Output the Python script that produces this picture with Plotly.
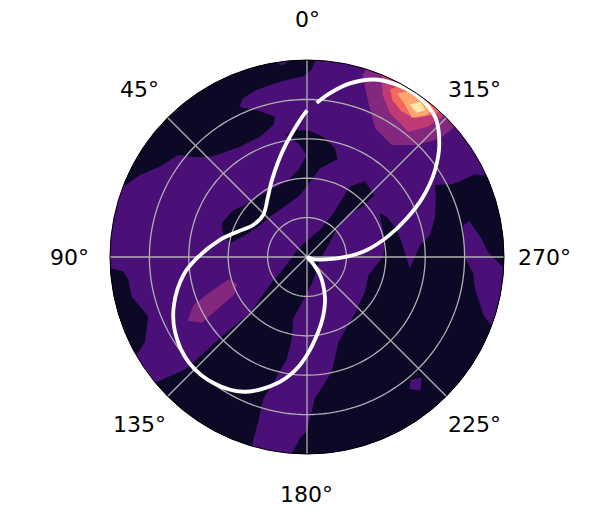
import numpy as np
import plotly.graph_objects as go

# Curve values
curve_theta = [0, 2.9, 12.6, 24.4, 33, 46.3, 59.3, 70.3, 78.9, 90.7, 98.3, 109.8, 119.5, 131.8, 143.8, 154.8,
               166.5, 173.9, 179.8, 188.6, 195, 201.4, 205.9, 214.6, 222, 232, 250, 263, 270.4, 276.7, 284.3, 291.2, 297.4,
               304.2, 310.7, 317.6, 325.9, 333.6, 339.5, 346.1, 352, 356.4]
curve_r = [3.72, 3.48, 2.78, 2.15, 1.82, 1.54, 1.59, 1.89, 2.25, 2.80, 3.17, 3.59, 3.85, 4.02, 3.98, 3.78,
           3.30, 2.90, 2.50, 1.92, 1.57, 1.25, 1.02, 0.62, 0.25, 0.03, 0.15, 0.5, 1.01, 1.53, 2.12, 2.72, 3.32,
           3.93, 4.43, 4.82, 4.96, 4.92, 4.81, 4.54, 4.2, 3.92]

# Contour level outlines, in radial-unit x/y (clipped by the disc)
dark_top_x = [0.32, 0.12, -0.09, -0.69, -1.28, -1.62, -1.72, -1.28, -0.81, -0.85, -1.19, -1.70, -2.38, -2.80, -3.27, -3.73, -4.24, -4.59, -5.0, -5.3, -3.0, 0.32]
dark_top_y = [5.3, 4.75, 4.59, 4.45, 4.24, 4.03, 3.80, 3.73, 3.56, 3.35, 3.05, 2.80, 2.56, 2.53, 2.59, 2.29, 2.08, 1.83, 1.95, 3.8, 5.5, 5.5]
dark_blob_x = [-0.56, -0.30, 0.03, 0.41, 0.71, 0.78, 0.33, 0.08, -0.18, -0.52, -0.94, -1.24, -1.62, -1.95, -2.12, -2.17, -1.87, -1.57, -1.32, -0.94, -0.47, -0.22, -0.01, -0.22]
dark_blob_y = [3.10, 3.22, 3.22, 3.05, 2.76, 2.48, 2.25, 1.91, 1.57, 1.32, 1.02, 0.77, 0.52, 0.35, 0.56, 0.85, 1.19, 1.32, 1.49, 1.70, 1.95, 2.21, 2.59, 2.88]
dark_band_x = [1.09, 1.47, 1.70, 1.43, 1.09, 0.80, 0.63, 0.33, 0.25, 0.12, -0.14, -0.35, -0.39, -0.52, -0.94, -1.11, -1.24, -1.40, -1.5, -3.5, -4.3, -3.82, -3.05, -2.12, -1.45, -0.94, -0.52, -0.18, 0.33, 0.67]
dark_band_y = [1.79, 1.93, 1.57, 1.28, 1.11, 0.81, 0.47, -0.08, -0.33, -0.67, -1.18, -1.57, -2.11, -2.61, -3.33, -3.59, -4.18, -4.79, -5.3, -4.8, -3.6, -3.18, -2.83, -1.98, -1.43, -0.71, -0.20, 0.26, 0.69, 1.11]
dark_right_x = [1.84, 2.02, 2.26, 2.40, 2.61, 2.87, 3.12, 3.16, 3.25, 3.27, 3.25, 3.71, 3.93, 4.26, 4.54, 5.0, 5.5, 5.0, 3.5, 1.5, -0.4, -0.39, -0.18, -0.01, 0.20, 0.63, 0.80, 1.22, 1.47, 1.56, 1.73, 1.94, 1.98, 1.90]
dark_right_y = [1.11, 1.02, 0.73, 0.39, -0.29, 0.30, 0.56, 0.69, 1.02, 1.49, 1.83, 1.85, 1.95, 2.10, 2.06, 2.3, 0.0, -3.0, -4.6, -5.4, -5.4, -5.0, -4.60, -4.43, -3.59, -2.91, -2.15, -1.43, -0.88, -0.46, -0.25, 0.01, 0.43, 0.81]
dark_left_x = [-4.96, -4.66, -4.53, -4.45, -4.03, -4.11, -4.31, -4.7, -5.4, -5.4]
dark_left_y = [-0.29, -0.37, -0.58, -1.01, -1.51, -2.15, -2.46, -2.7, -1.5, -0.3]

low_rim_x = [3.97, 4.12, 4.43, 4.60, 4.98, 5.4, 5.2, 4.69, 4.48, 4.26, 4.22, 4.01, 3.99]
low_rim_y = [0.81, 0.91, 0.47, 0.11, -0.26, -0.4, -1.95, -1.75, -1.47, -0.80, -0.41, -0.03, 0.09]
low_square_x = [2.60, 2.63, 2.91, 2.88]
low_square_y = [-3.35, -3.12, -3.06, -3.39]
low_top_x = [-0.77, -0.64, -0.52, -0.52, -0.77]
low_top_y = [4.93, 4.86, 4.93, 5.3, 5.3]

mid_left_x = [-2.00, -1.77, -1.85, -2.67, -3.03, -2.88, -2.55]
mid_left_y = [-0.57, -0.69, -0.96, -1.67, -1.62, -1.22, -0.96]
mid_hot_x = [1.47, 1.41, 1.56, 1.73, 2.15, 2.78, 3.38, 3.70, 4.1, 3.4, 1.5]
mid_hot_y = [4.70, 4.62, 3.90, 3.27, 2.84, 2.84, 3.01, 3.27, 3.5, 4.8, 5.2]
pink_x = [1.95, 1.90, 1.92, 2.11, 2.57, 3.08, 3.42, 3.8, 3.0]
pink_y = [5.0, 4.49, 4.11, 3.65, 3.18, 3.31, 3.56, 3.9, 5.0]
salmon_x = [2.44, 2.11, 2.17, 2.40, 2.74, 3.25, 3.39, 3.7, 2.9]
salmon_y = [4.38, 4.26, 3.98, 3.69, 3.52, 3.62, 3.71, 4.0, 4.6]
orange_x = [2.29, 2.57, 2.87, 3.16, 3.02, 2.66, 2.49]
orange_y = [4.15, 4.21, 4.07, 3.71, 3.59, 3.54, 3.86]
pale_x = [2.61, 2.87, 3.01, 2.78]
pale_y = [3.87, 3.94, 3.73, 3.66]

ring_values = [1, 2, 3, 4]
tick_angles = [0, 45, 90, 135, 180, 225, 270, 315]
tick_labels = ["0°", "45°", "90°", "135°", "180°", "225°", "270°", "315°"]

DARK, PURPLE, MAGENTA = "#0c0927", "#4a1078", "#84277f"
PINK, SALMON, ORANGE, PALE = "#c03b76", "#f4695c", "#fea671", "#fde8a9"

regions = [
    (dark_top_x, dark_top_y, DARK), (dark_blob_x, dark_blob_y, DARK), (dark_band_x, dark_band_y, DARK),
    (dark_right_x, dark_right_y, DARK), (dark_left_x, dark_left_y, DARK),
    (low_rim_x, low_rim_y, PURPLE), (low_square_x, low_square_y, PURPLE), (low_top_x, low_top_y, PURPLE),
    (mid_left_x, mid_left_y, MAGENTA), (mid_hot_x, mid_hot_y, MAGENTA),
    (pink_x, pink_y, PINK), (salmon_x, salmon_y, SALMON), (orange_x, orange_y, ORANGE), (pale_x, pale_y, PALE),
]

fig = go.Figure()
for xs, ys, color in regions:
    x, y = np.array(xs), np.array(ys)
    fig.add_trace(go.Scatterpolar(
        r=np.hypot(x, y), theta=np.degrees(np.arctan2(-x, y)) % 360,
        mode="lines", fill="toself", fillcolor=color, line=dict(width=0),
        hoverinfo="skip", showlegend=False))

GRID = "#b0b0b0"
circle = np.arange(0, 361, 2)
for ring in ring_values:
    fig.add_trace(go.Scatterpolar(r=[ring] * len(circle), theta=circle, mode="lines",
                                  line=dict(color=GRID, width=1.3), hoverinfo="skip", showlegend=False))
for angle in tick_angles:
    fig.add_trace(go.Scatterpolar(r=[0, 5], theta=[angle, angle], mode="lines",
                                  line=dict(color=GRID, width=1.3), hoverinfo="skip", showlegend=False))

fig.add_trace(go.Scatterpolar(r=curve_r, theta=curve_theta, mode="lines",
                              line=dict(color="white", width=3.8, shape="spline", smoothing=1.0),
                              hoverinfo="skip", showlegend=False))

# the page body adds an 8 px margin around the figure
W, H = 590, 503
DISC_L, DISC_R, DISC_T, DISC_B = 102, 496, 52, 446
cx, cy, radius = (DISC_L + DISC_R) / 2, (DISC_T + DISC_B) / 2, (DISC_R - DISC_L) / 2

# angular labels, centred on a circle just outside the disc
label_radius = radius * 1.204
annotations = [
    dict(text=label, xref="paper", yref="paper",
         x=(cx - label_radius * np.sin(np.radians(a))) / W,
         y=1 - (cy - label_radius * np.cos(np.radians(a))) / H,
         xanchor="center", yanchor="middle", showarrow=False,
         font=dict(family="DejaVu Sans", size=22, color="black"))
    for a, label in zip(tick_angles, tick_labels)
]

fig.update_layout(
    width=W, height=H, margin=dict(l=0, r=0, t=0, b=0), paper_bgcolor="white", showlegend=False,
    font=dict(family="DejaVu Sans", color="black", size=22),
    annotations=annotations,
    polar=dict(
        domain=dict(x=[DISC_L / W, DISC_R / W], y=[(H - DISC_B) / H, (H - DISC_T) / H]),
        bgcolor=PURPLE,
        radialaxis=dict(range=[0, 5], visible=False, showgrid=False),
        angularaxis=dict(rotation=90, direction="counterclockwise", tickmode="array",
                         tickvals=tick_angles, ticktext=tick_labels, showticklabels=False, showgrid=False, ticks="",
                         linecolor="black", linewidth=1),
    ),
)
fig.write_html("out.html")
